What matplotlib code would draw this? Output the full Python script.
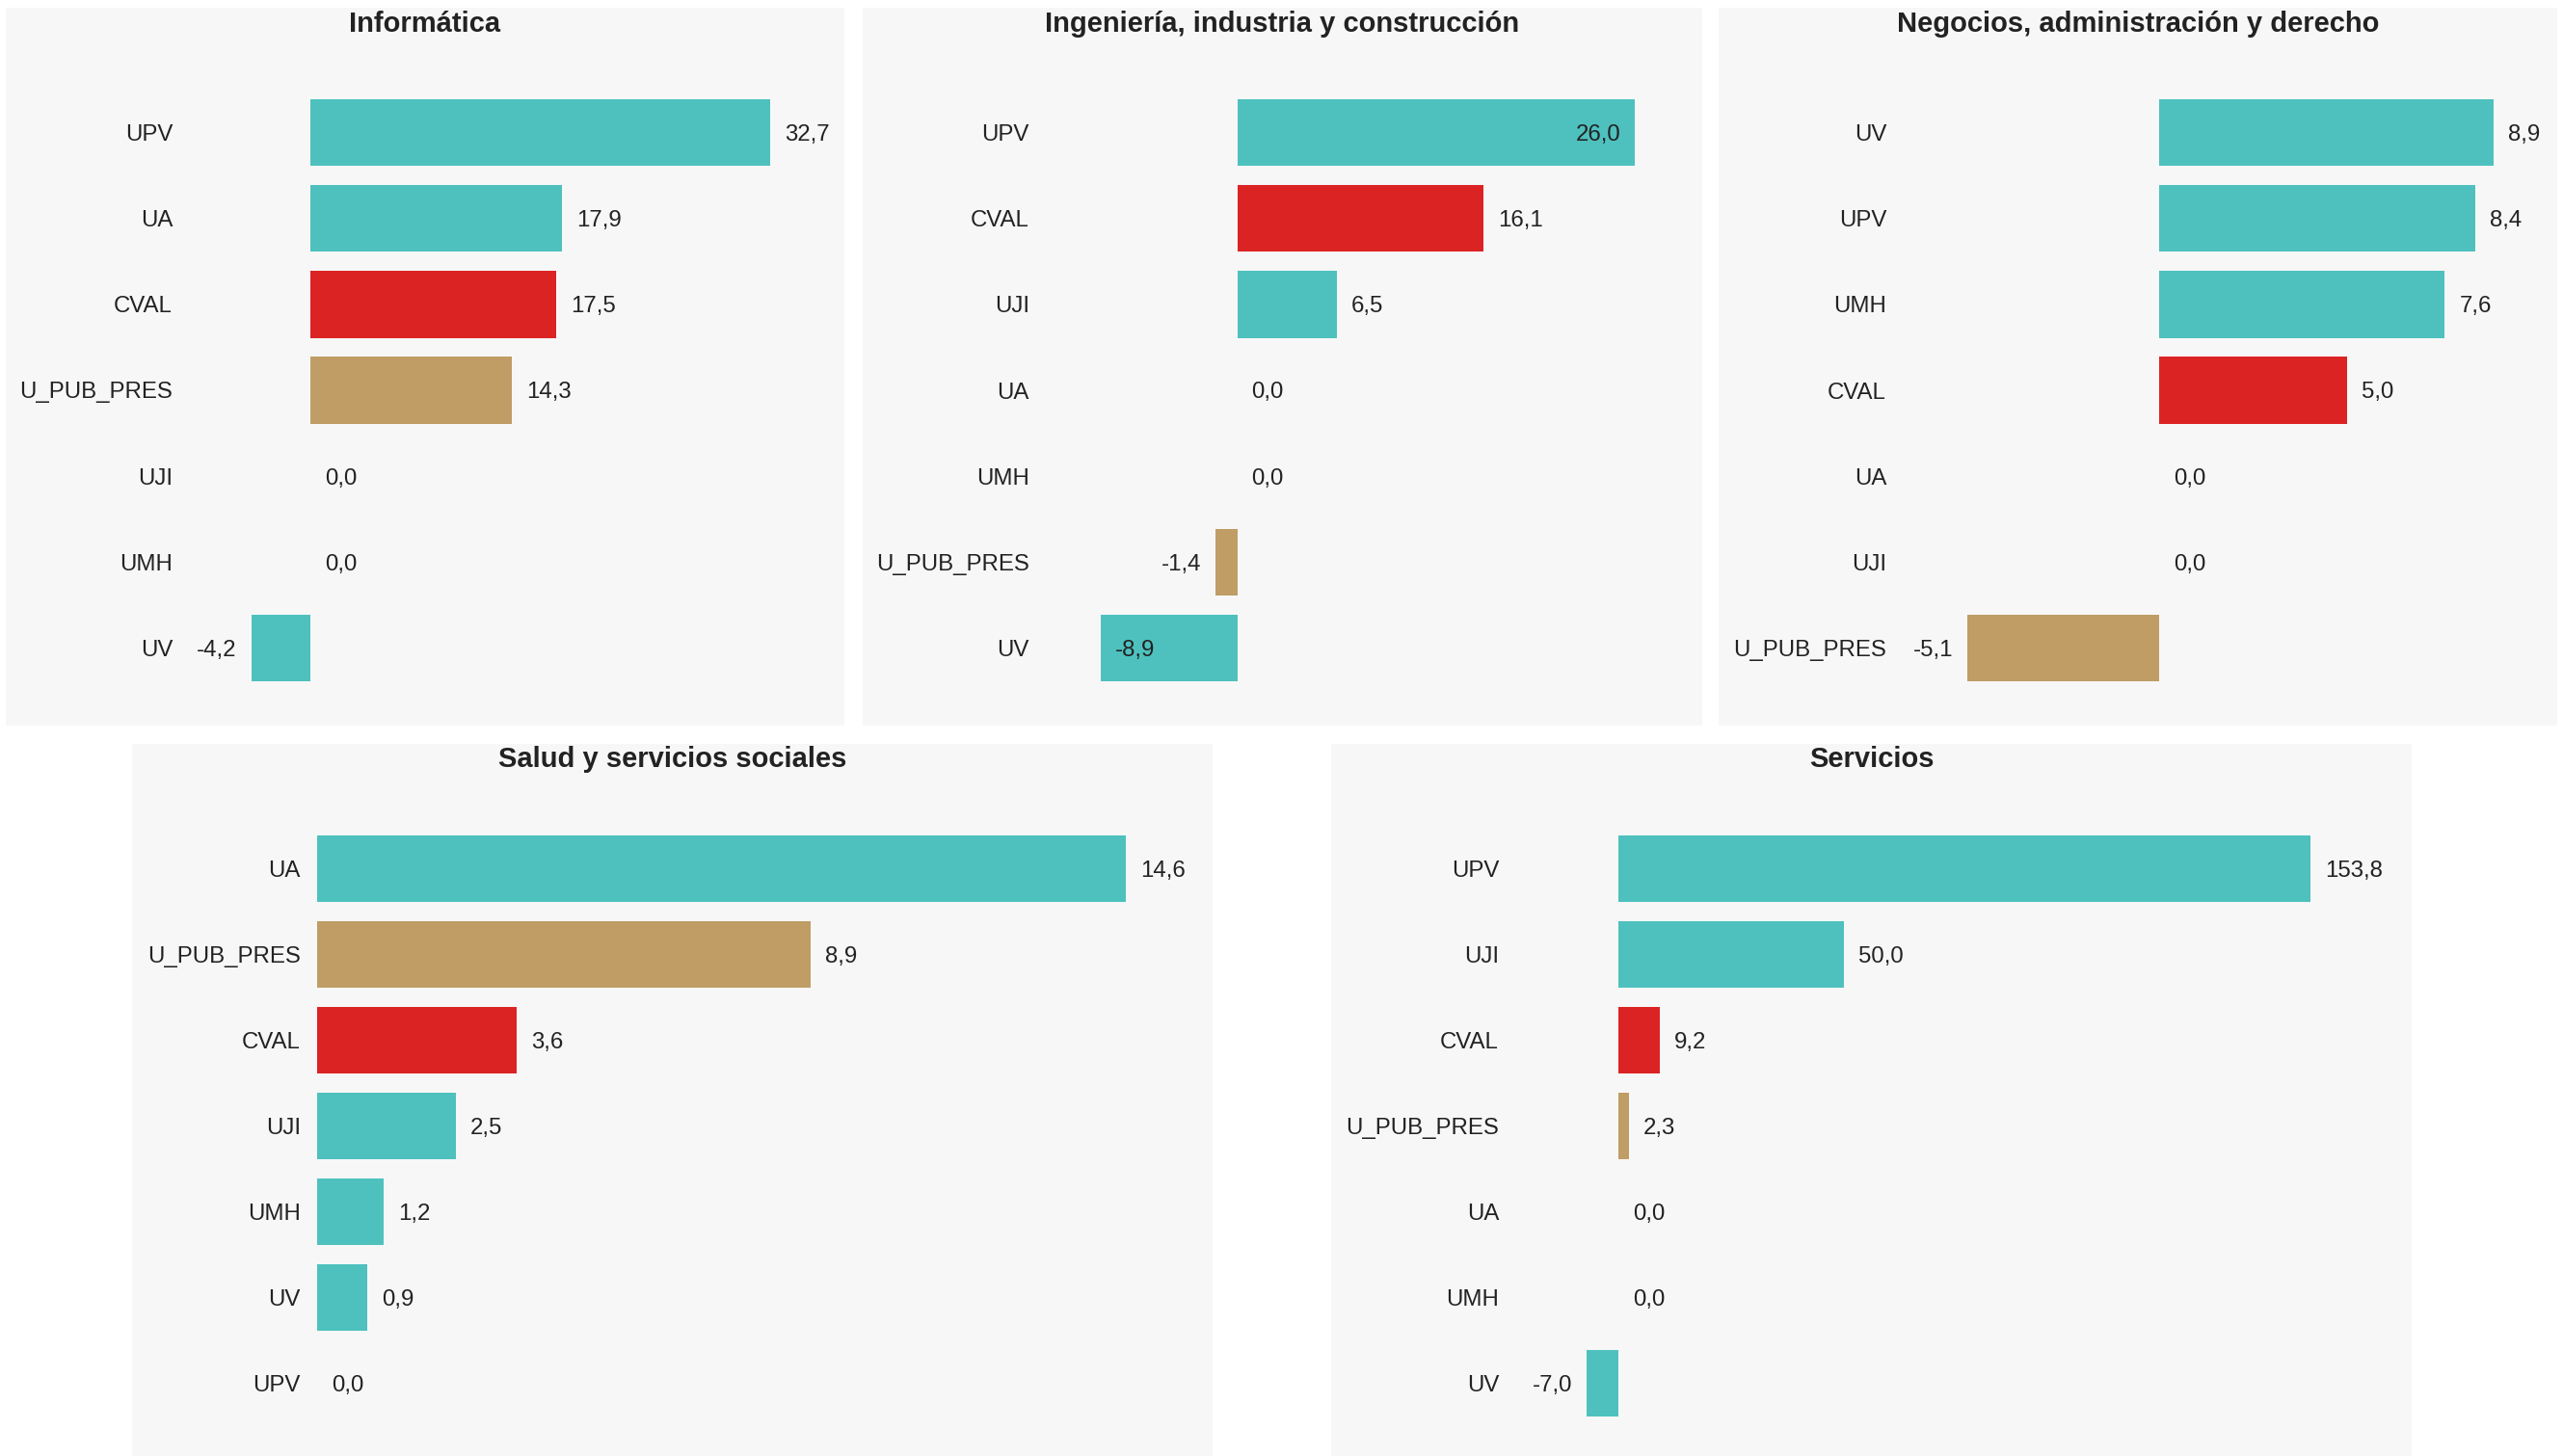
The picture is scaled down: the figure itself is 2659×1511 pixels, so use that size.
import matplotlib
matplotlib.use("Agg")
import matplotlib.pyplot as plt
from matplotlib.patches import Rectangle

plt.rcParams['font.family'] = ['Liberation Sans', 'DejaVu Sans']

# ---------------- data ----------------
titles = ["Informática",
          "Ingeniería, industria y construcción",
          "Negocios, administración y derecho",
          "Salud y servicios sociales",
          "Servicios"]

cats_informatica = ["UPV", "UA", "CVAL", "U_PUB_PRES", "UJI", "UMH", "UV"]
vals_informatica = [32.7, 17.9, 17.5, 14.3, 0.0, 0.0, -4.2]

cats_ingenieria = ["UPV", "CVAL", "UJI", "UA", "UMH", "U_PUB_PRES", "UV"]
vals_ingenieria = [26.0, 16.1, 6.5, 0.0, 0.0, -1.4, -8.9]

cats_negocios = ["UV", "UPV", "UMH", "CVAL", "UA", "UJI", "U_PUB_PRES"]
vals_negocios = [8.9, 8.4, 7.6, 5.0, 0.0, 0.0, -5.1]

cats_salud = ["UA", "U_PUB_PRES", "CVAL", "UJI", "UMH", "UV", "UPV"]
vals_salud = [14.6, 8.9, 3.6, 2.5, 1.2, 0.9, 0.0]

cats_servicios = ["UPV", "UJI", "CVAL", "U_PUB_PRES", "UA", "UMH", "UV"]
vals_servicios = [153.8, 50.0, 9.2, 2.3, 0.0, 0.0, -7.0]

panel_cats = [cats_informatica, cats_ingenieria, cats_negocios, cats_salud, cats_servicios]
panel_vals = [vals_informatica, vals_ingenieria, vals_negocios, vals_salud, vals_servicios]

# ---------------- style / layout ----------------
TEAL = "#4EC1BE"
RED = "#DC2324"
TAN = "#BF9D65"
BG = "#F7F7F7"
TXT = "#222222"
color_map = {"CVAL": RED, "U_PUB_PRES": TAN}

W, H = 2659, 1511
DPI = 100
fig = plt.figure(figsize=(W / DPI, H / DPI), dpi=DPI)
fig.patch.set_facecolor("white")

# panel background boxes (px: left, top, right, bottom)
panels = [(6, 8, 876, 753), (895, 8, 1766, 753), (1783, 8, 2653, 753),
          (137, 772, 1258, 1511), (1381, 772, 2502, 1511)]
# axes horizontal extent (px) and tick-label right edge (px)
ax_lr = [(190, 868), (1095, 1755), (1970, 2648), (318, 1250), (1565, 2495)]
label_right = [179, 1068, 1957, 312, 1555]
xlims = [(-9.04, 37.4), (-11.88, 29.70), (-6.92, 10.46), (-0.19, 16.02), (-24.4, 174.7)]
ax_tb = [(93, 717), (93, 717), (93, 717), (857, 1480), (857, 1480)]
title_y = [25, 25, 25, 788, 788]

LABEL_FS = 17.3
TITLE_FS = 21
PAD_PX = 15

def fx(px):
    return px / W

def fy(py):
    return 1 - py / H

def fmt(v):
    return f"{v:.1f}".replace(".", ",")

axes = []
for i in range(5):
    l, t, r, b = panels[i]
    fig.patches.append(Rectangle((fx(l), fy(b)), fx(r) - fx(l), fy(t) - fy(b),
                                 transform=fig.transFigure, facecolor=BG,
                                 edgecolor="none", zorder=-10))
    fig.text(fx((l + r) / 2), fy(title_y[i]), titles[i], ha="center", va="center",
             fontsize=TITLE_FS, fontweight="bold", color=TXT)

    aL, aR = ax_lr[i]
    aT, aB = ax_tb[i]
    ax = fig.add_axes([fx(aL), fy(aB), fx(aR) - fx(aL), fy(aT) - fy(aB)])
    ax.set_zorder(5)
    ax.set_facecolor("none")
    ax.patch.set_alpha(0)
    for s in ax.spines.values():
        s.set_visible(False)

    cats = panel_cats[i]
    vals = panel_vals[i]
    ypos = list(range(len(cats)))
    cols = [color_map.get(c, TEAL) for c in cats]
    ax.barh(ypos, vals, height=0.78, color=cols, edgecolor="none")
    ax.set_ylim(len(cats) - 0.5, -0.5)
    ax.set_xlim(*xlims[i])
    ax.set_xticks([])
    ax.set_yticks(ypos)
    ax.set_yticklabels(cats, fontsize=LABEL_FS, color=TXT)
    ax.tick_params(axis="y", length=0, pad=(aL - label_right[i]) * 72 / DPI)
    axes.append((ax, vals))

# value labels: outside by default, moved inside when they would overflow the axes
fig.canvas.draw()
renderer = fig.canvas.get_renderer()
pad_pt = PAD_PX * 72 / DPI
for ax, vals in axes:
    abox = ax.get_window_extent(renderer)
    for y, v in enumerate(vals):
        sign = -1 if v < 0 else 1
        t = ax.annotate(fmt(v), (v, y), xytext=(sign * pad_pt, 0),
                        textcoords="offset points", va="center_baseline",
                        ha="right" if v < 0 else "left",
                        fontsize=LABEL_FS, color=TXT)
        bb = t.get_window_extent(renderer)
        if bb.x1 > abox.x1 + 0.5 or bb.x0 < abox.x0 - 0.5:
            t.set_position((-sign * pad_pt, 0))
            t.set_ha("left" if v < 0 else "right")

fig.savefig("out.png", dpi=DPI, facecolor="white")
